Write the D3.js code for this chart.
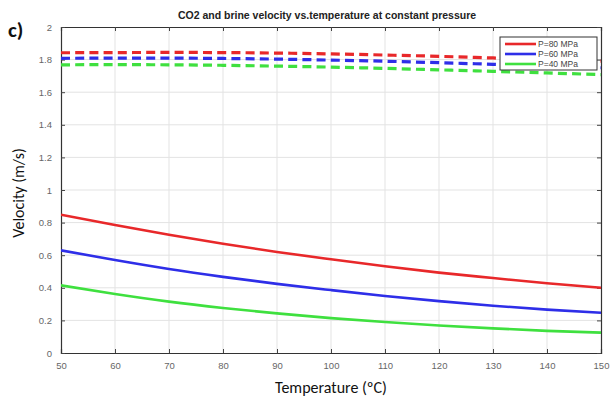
<!DOCTYPE html>
<html>
<head>
<meta charset="utf-8">
<script src="https://cdn.jsdelivr.net/npm/d3@7"></script>
<style>
  body { margin: 0; background: #fff; }
  svg { font-family: Helvetica, Arial, "Liberation Sans", sans-serif; }
</style>
</head>
<body>
<svg width="615" height="405"></svg>
<script>
// temperatures (degC)
const temps = [50, 60, 70, 80, 90, 100, 110, 120, 130, 140, 150];

// brine velocity (dashed)
const brine80 = [1.842, 1.843, 1.844, 1.843, 1.840, 1.835, 1.828, 1.82, 1.81, 1.80, 1.79];
const brine60 = [1.808, 1.809, 1.809, 1.807, 1.803, 1.797, 1.790, 1.781, 1.771, 1.760, 1.750];
const brine40 = [1.768, 1.769, 1.768, 1.765, 1.760, 1.754, 1.746, 1.737, 1.728, 1.718, 1.708];

// CO2 velocity (solid)
const co2_80 = [0.848, 0.785, 0.725, 0.67, 0.62, 0.575, 0.532, 0.493, 0.46, 0.428, 0.40];
const co2_60 = [0.63, 0.57, 0.515, 0.467, 0.424, 0.386, 0.35, 0.318, 0.29, 0.266, 0.247];
const co2_40 = [0.415, 0.362, 0.315, 0.276, 0.243, 0.214, 0.19, 0.169, 0.151, 0.136, 0.125];

const xTicks = [50, 60, 70, 80, 90, 100, 110, 120, 130, 140, 150];
const yTicks = [0, 0.2, 0.4, 0.6, 0.8, 1, 1.2, 1.4, 1.6, 1.8, 2];
const legendLabels = ["P=80 MPa", "P=60 MPa", "P=40 MPa"];
const colors = ["#e8282a", "#2e2ee8", "#3fe03f"];

function drawChart() {
  const svg = d3.select("svg");
  const left = 61, right = 601, top = 27, bottom = 353;

  const x = d3.scaleLinear().domain([50, 150]).range([left, right]);
  const y = d3.scaleLinear().domain([0, 2]).range([bottom, top]);

  // grid
  svg.append("g").selectAll("line").data(xTicks.slice(1, -1)).enter().append("line")
    .attr("x1", d => x(d)).attr("x2", d => x(d))
    .attr("y1", top).attr("y2", bottom)
    .attr("stroke", "#e3e3e3").attr("stroke-width", 1);
  svg.append("g").selectAll("line").data(yTicks.slice(1, -1)).enter().append("line")
    .attr("x1", left).attr("x2", right)
    .attr("y1", d => y(d)).attr("y2", d => y(d))
    .attr("stroke", "#e3e3e3").attr("stroke-width", 1);

  // axes (ticks inside, MATLAB style)
  const xAxis = svg.append("g").attr("transform", `translate(0,${bottom})`)
    .call(d3.axisBottom(x).tickValues(xTicks).tickSize(-4).tickPadding(9).tickFormat(d3.format("d")));
  const xAxisTop = svg.append("g").attr("transform", `translate(0,${top})`)
    .call(d3.axisTop(x).tickValues(xTicks).tickSize(-4).tickFormat(""));
  const yAxis = svg.append("g").attr("transform", `translate(${left},0)`)
    .call(d3.axisLeft(y).tickValues(yTicks).tickSize(-4).tickPadding(9).tickFormat(d => d3.format("~g")(d)));
  const yAxisR = svg.append("g").attr("transform", `translate(${right},0)`)
    .call(d3.axisRight(y).tickValues(yTicks).tickSize(-4).tickFormat(""));

  [xAxis, xAxisTop, yAxis, yAxisR].forEach(g => {
    g.select(".domain").attr("stroke", "#333").attr("stroke-width", 1.2);
    g.selectAll(".tick line").attr("stroke", "#444");
    g.selectAll("text").attr("fill", "#666").attr("font-size", 9.5);
  });

  const line = d3.line().x((d, i) => x(temps[i])).y(d => y(d)).curve(d3.curveMonotoneX);

  svg.append("clipPath").attr("id", "clip")
    .append("rect").attr("x", left).attr("y", top).attr("width", right - left + 3).attr("height", bottom - top);

  const lines = svg.append("g").attr("clip-path", "url(#clip)");

  [brine80, brine60, brine40].forEach((s, i) => {
    lines.append("path").datum(s).attr("d", line)
      .attr("fill", "none").attr("stroke", colors[i])
      .attr("stroke-width", 3.2).attr("stroke-dasharray", "9,5.2");
  });
  [co2_80, co2_60, co2_40].forEach((s, i) => {
    lines.append("path").datum(s).attr("d", line)
      .attr("fill", "none").attr("stroke", colors[i])
      .attr("stroke-width", 2.6);
  });

  // legend
  const lg = svg.append("g").attr("transform", "translate(500,37)");
  lg.append("rect").attr("width", 97).attr("height", 33)
    .attr("fill", "#fff").attr("stroke", "#333").attr("stroke-width", 1);
  legendLabels.forEach((lab, i) => {
    const yy = 7 + i * 10;
    lg.append("line").attr("x1", 5).attr("x2", 36).attr("y1", yy).attr("y2", yy)
      .attr("stroke", colors[i]).attr("stroke-width", 2.6);
    lg.append("text").attr("x", 38).attr("y", yy + 3).text(lab)
      .attr("font-size", 8.5).attr("fill", "#444");
  });

  // title
  svg.append("text").attr("x", (left + right) / 2 - 4).attr("y", 19)
    .attr("text-anchor", "middle").attr("font-size", 10.5).attr("font-weight", "bold")
    .attr("fill", "#222").text("CO2 and brine velocity vs.temperature at constant pressure");

  // axis labels
  svg.append("text").attr("transform", `translate(24,${(top + bottom) / 2 + 3}) rotate(-90)`)
    .attr("text-anchor", "middle").attr("font-size", 16)
    .attr("font-family", "Calibri, Carlito, 'Open Sans', sans-serif")
    .attr("fill", "#111").text("Velocity (m/s)");
  svg.append("text").attr("x", 331).attr("y", 393)
    .attr("text-anchor", "middle").attr("font-size", 16)
    .attr("font-family", "Calibri, Carlito, 'Open Sans', sans-serif")
    .attr("fill", "#111").text("Temperature (ºC)");

  // panel letter
  svg.append("text").attr("x", 8).attr("y", 37)
    .attr("font-size", 21).attr("font-weight", "bold")
    .attr("font-family", "Calibri, Carlito, 'Open Sans', sans-serif")
    .attr("fill", "#111").text("c)");
}

drawChart();
</script>
</body>
</html>
